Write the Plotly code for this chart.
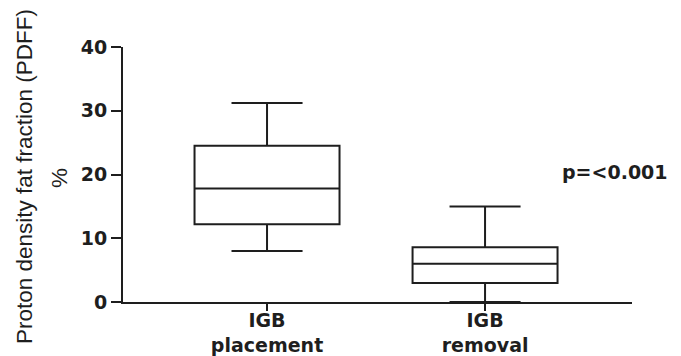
import plotly.graph_objects as go

categories = ["IGB<br>placement", "IGB<br>removal"]
positions = [0, 1]
lower = [8.0, 0.0]
q1 = [12.2, 3.0]
median = [17.8, 6.0]
q3 = [24.5, 8.6]
upper = [31.2, 15.0]
y_ticks = [0, 10, 20, 30, 40]
p_text = "p=<0.001"

ink = "#1e1e1e"
bold_font = dict(family="DejaVu Sans", size=19, color=ink, weight="bold")
title_font = dict(family="Liberation Sans", size=22.5, color=ink, weight="normal")

fig = go.Figure()
fig.add_trace(go.Box(
    x=positions, q1=q1, median=median, q3=q3,
    lowerfence=lower, upperfence=upper,
    width=0.665, whiskerwidth=0.49,
    line=dict(color=ink, width=2), fillcolor="white",
    boxpoints=False, showlegend=False, hoverinfo="skip",
))

fig.update_layout(
    width=681, height=356,
    margin=dict(l=123, r=49, t=47, b=54),
    paper_bgcolor="white", plot_bgcolor="white",
    font=bold_font,
    xaxis=dict(
        range=[-0.6606, 1.674], tickmode="array", tickvals=positions,
        ticktext=categories, showgrid=False, zeroline=False,
        showline=True, linecolor=ink, linewidth=2,
        ticks="outside", ticklen=7, tickwidth=2, tickcolor=ink,
        tickfont=bold_font, automargin=False, ticklabelstandoff=-7,
    ),
    yaxis=dict(
        range=[0, 40], tickvals=y_ticks, showgrid=False, zeroline=False,
        showline=True, linecolor=ink, linewidth=2,
        ticks="outside", ticklen=10, tickwidth=2, tickcolor=ink,
        tickfont=bold_font, automargin=False,
    ),
    annotations=[
        dict(text="Proton density fat fraction (PDFF)", textangle=-90,
             xref="paper", yref="paper", x=(24 - 123) / 509, y=0.49,
             xanchor="center", yanchor="middle", showarrow=False,
             font=title_font),
        dict(text="%", textangle=-90,
             xref="paper", yref="paper", x=(59 - 123) / 509, y=(302 - 178) / 255,
             xanchor="center", yanchor="middle", showarrow=False,
             font=title_font),
        dict(text=p_text, xref="x", yref="y", x=1.596, y=20.4,
             xanchor="center", yanchor="middle", showarrow=False,
             font=bold_font),
    ],
)

fig.write_html("out.html", config={"displayModeBar": False},
               post_script="document.body.style.margin='0';")
